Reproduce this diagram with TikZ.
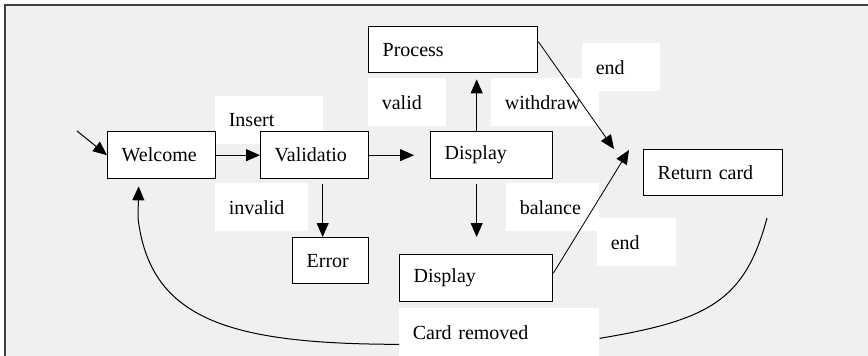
\documentclass[tikz,border=0pt]{standalone}
\usepackage{fontspec}
\setmainfont{Liberation Serif}
\usetikzlibrary{arrows.meta}
\definecolor{atmbg}{HTML}{EFF0EF}
\definecolor{atmframe}{HTML}{404040}
\newdimen\px \px=0.6pt

\tikzset{
  state/.style={draw, line width=0.8pt, fill=white, anchor=north west,
    inner xsep=14\px, inner ysep=0pt, text width=#1, align=left,
    minimum height=47\px, font=\fontsize{12}{14}\selectfont},
  guard/.style={fill=white, anchor=north west, inner xsep=13.5\px,
    inner ysep=0pt, text width=#1, align=left, minimum height=48\px,
    font=\fontsize{12}{14}\selectfont},
  arr/.style={-{Triangle[length=8.4pt, width=7.2pt]}, line width=0.6pt},
  thinarr/.style={-{Triangle[length=8.4pt, width=7.2pt]}, line width=0.5pt},
}

\begin{document}
\begin{tikzpicture}[x=0.6pt, y=-0.6pt]
  \clip (0,0) rectangle (868,355);
  % panel
  \draw[atmframe, line width=1.2pt, fill=atmbg] (4.5,4.5) rectangle (890,380);
  % transition labels (white patches)
  \node[guard=81\px] (lblinsert) at (215,96) {Insert};
  \node[guard=51\px] (lblvalid) at (368,78) {valid};
  \node[guard=81\px] (lblwithdraw) at (491,78) {withdraw};
  \node[guard=51\px] (lblend) at (582,43) {end};
  \node[guard=66\px] (lblinvalid) at (215,183) {invalid};
  \node[guard=66\px] (lblbalance) at (506,183) {balance};
  \node[guard=52\px] (lblendb) at (597,218) {end};
  \node[guard=173\px] (lblremoved) at (399,308) {Card removed};
  % states
  \node[state=80\px] (welcome) at (107,131) {Welcome};
  \node[state=80\px] (validation) at (260,131) {Validatio};
  \node[state=94\px] (display) at (430,131) {Display};
  \node[state=141\px, minimum height=46\px] (process) at (368,26) {Process};
  \node[state=48\px, minimum height=46\px] (error) at (292,237) {Error};
  \node[state=125\px] (balancedisp) at (399,254) {Display};
  \node[state=111\px, minimum height=46\px] (returncard) at (643,149) {Return card};
  % free ends
  \coordinate (start) at (77,131);
  \coordinate (retin) at (614,149);
  \coordinate (retinb) at (629,150);
  \coordinate (retout) at (767,218);
  % transitions
  \draw[arr] (start) -- (welcome.west);
  \draw[arr] (welcome.east) -- (validation.west);
  \draw[arr, shorten >=9.6pt] (validation.east) -- (display.west);
  \draw[arr, shorten <=3pt] ([xshift=8\px]validation.south)
    -- ([xshift=8\px]validation.south |- error.north);
  \draw[arr, shorten >=3.6pt] ([xshift=-15\px]display.north)
    -- ([xshift=-15\px]display.north |- process.south);
  \draw[arr, shorten <=3pt, shorten >=10.2pt] ([xshift=-15\px]display.south)
    -- ([xshift=-15\px]display.south |- balancedisp.north);
  \draw[thinarr] ([yshift=8\px]process.east) -- (retin);
  \draw[thinarr] ([yshift=5\px]balancedisp.east) -- (retinb);
  % card removed loop
  \draw[line width=0.6pt] (retout) .. controls (745,300) and (710,320)
    .. ([yshift=-6\px]lblremoved.east);
  \draw[arr] ([yshift=-12\px]lblremoved.west) .. controls (230,344) and (150,320)
    .. (138,218) -- ([xshift=-23\px, yshift=-7\px]welcome.south);
\end{tikzpicture}
\end{document}
